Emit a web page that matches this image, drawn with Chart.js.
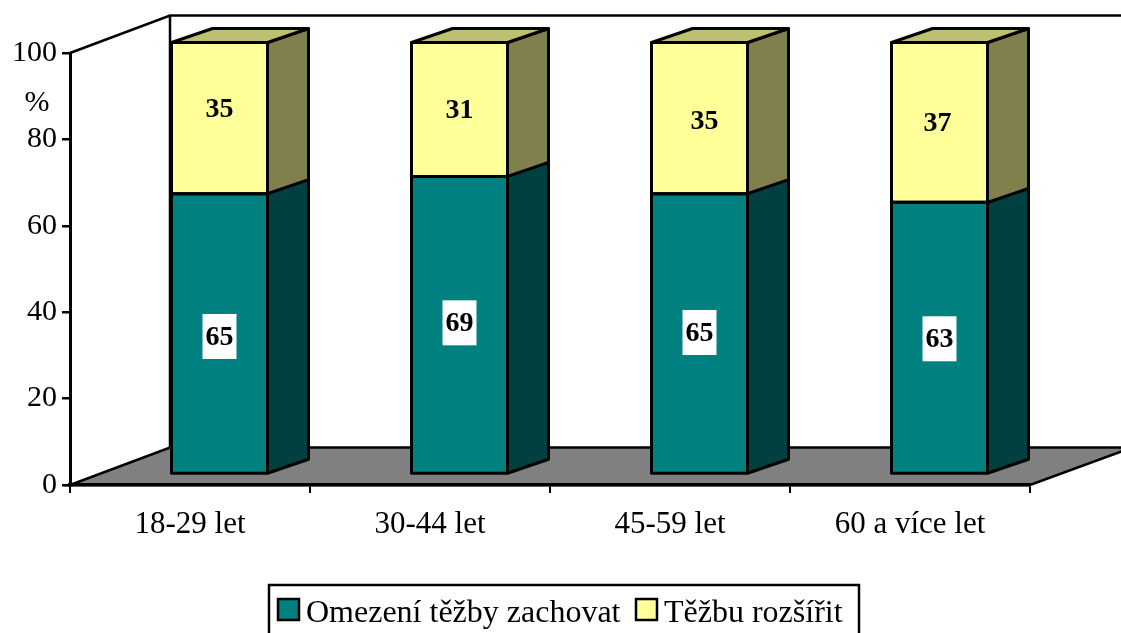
<!DOCTYPE html>
<html><head><meta charset="utf-8">
<style>html,body{margin:0;padding:0;background:#fff}canvas{display:block}</style>
<script src="https://cdn.jsdelivr.net/npm/chart.js@4"></script></head>
<body><canvas id="c" width="1121" height="633"></canvas>
<script>
const categories = ['18-29 let','30-44 let','45-59 let','60 a více let'];
const omezeni = [65,69,65,63];
const rozsirit = [35,31,35,37];
const seriesNames = ['Omezení těžby zachovat','Těžbu rozšířit'];
const yTicks = [0,20,40,60,80,100];
const FONT = '"Liberation Serif","Times New Roman",serif';
// styling / geometry constants
const barShift = {x:29.5,y:-10.5}, depth = {x:41,y:-14}, wall = {x:100,y:-37.5};
const labelNudge = [[[0,3],[0,-9]],[[0,-2],[0,0]],[[0,-1],[5,3]],[[0,1],[-2,0]]];
const shades = [{front:'#008080',side:'#004040'},{front:'#FFFF99',side:'#80804D',top:'#BFBF73'}];
const legendFrame = {l:269,t:585,r:859,b:640};
const legendItems = [{swatch:278,text:306},{swatch:636,text:664}];

const decor = {
  id:'decor',
  beforeDraw(ch){
    const {ctx,chartArea:a}=ch;
    const W=ch.width;
    ctx.save();
    ctx.lineJoin='miter';
    const bx=a.left+wall.x, by=a.bottom+wall.y, ty=a.top+wall.y;
    const k=(W-a.right)/wall.x;
    ctx.beginPath();ctx.moveTo(a.left,a.bottom);ctx.lineTo(bx,by);ctx.lineTo(W+2,by);
    ctx.lineTo(W+2,a.bottom+wall.y*k);ctx.lineTo(a.right,a.bottom);ctx.closePath();
    ctx.fillStyle='#808080';ctx.fill();
    ctx.strokeStyle='#000';ctx.lineWidth=2.5;ctx.stroke();
    ctx.beginPath();ctx.moveTo(a.left,a.top);ctx.lineTo(bx,ty);ctx.lineTo(W+2,ty);
    ctx.moveTo(bx,ty);ctx.lineTo(bx,by);ctx.stroke();
    // legend
    const f=legendFrame;
    ctx.strokeRect(f.l,f.t,f.r-f.l,f.b-f.t);
    ctx.font='32px '+FONT;ctx.textAlign='left';ctx.textBaseline='alphabetic';
    ch.data.datasets.forEach((d,i)=>{
      const it=legendItems[i];
      ctx.fillStyle=d.backgroundColor;ctx.fillRect(it.swatch,599,21,21);
      ctx.strokeStyle='#000';ctx.lineWidth=2.5;ctx.strokeRect(it.swatch,599,21,21);
      ctx.fillStyle='#000';ctx.fillText(d.label,it.text,622);
    });
    ctx.font='30px '+FONT;ctx.textAlign='center';ctx.textBaseline='middle';
    ctx.fillText('%',37,103);
    ctx.restore();
  },
  beforeDatasetsDraw(ch){ch.ctx.save();ch.ctx.translate(barShift.x,barShift.y);},
  afterDatasetsDraw(ch){
    const ctx=ch.ctx;ctx.restore();
    ctx.save();
    ctx.translate(barShift.x,barShift.y);
    ctx.strokeStyle='#000';ctx.lineWidth=3;ctx.lineJoin='round';
    const poly=(pts,fill)=>{ctx.beginPath();pts.forEach((p,i)=>i?ctx.lineTo(p[0],p[1]):ctx.moveTo(p[0],p[1]));ctx.closePath();ctx.fillStyle=fill;ctx.fill();ctx.stroke();};
    ch.data.datasets.forEach((d,di)=>{
      ch.getDatasetMeta(di).data.forEach((b,i)=>{
        const r=b.x+b.width/2,l=b.x-b.width/2,t=b.y,bt=b.base;
        poly([[r,t],[r+depth.x,t+depth.y],[r+depth.x,bt+depth.y],[r,bt]],shades[di].side);
        if(shades[di].top) poly([[l,t],[l+depth.x,t+depth.y],[r+depth.x,t+depth.y],[r,t]],shades[di].top);
        ctx.strokeRect(l,t,r-l,bt-t);
      });
    });
    ctx.font='bold 28px '+FONT;ctx.textAlign='center';ctx.textBaseline='middle';
    ch.data.datasets.forEach((d,di)=>{
      ch.getDatasetMeta(di).data.forEach((b,i)=>{
        const [nx,ny]=labelNudge[i][di];
        const x=b.x+nx,y=(b.y+b.base)/2+ny;
        if(di===0){ctx.fillStyle='#fff';ctx.fillRect(x-17,y-22.5,34,45);}
        ctx.fillStyle='#000';ctx.fillText(String(d.data[i]),x,y+1);
      });
    });
    ctx.restore();
  }
};

new Chart(document.getElementById('c'),{
  type:'bar',
  data:{labels:categories,datasets:[
    {label:seriesNames[0],data:omezeni,backgroundColor:shades[0].front,borderWidth:0},
    {label:seriesNames[1],data:rozsirit,backgroundColor:shades[1].front,borderWidth:0}
  ]},
  plugins:[decor],
  options:{
    responsive:false,animation:false,
    layout:{padding:{left:7,top:53,right:0,bottom:0}},
    datasets:{bar:{barPercentage:1,categoryPercentage:0.4}},
    plugins:{tooltip:{enabled:false},legend:{display:false}},
    scales:{
      x:{stacked:true,
        afterFit(s){s.height=148;},
        grid:{display:true,drawOnChartArea:false,drawTicks:true,tickLength:8,color:'#000',lineWidth:2},
        border:{display:true,color:'#000',width:3.5},
        ticks:{color:'#000',font:{family:FONT,size:31},padding:13,maxRotation:0}
      },
      y:{stacked:true,min:0,max:100,
        afterFit(s){s.width=63;},
        afterBuildTicks(s){s.ticks=yTicks.map(v=>({value:v}));},
        grid:{display:true,drawOnChartArea:false,drawTicks:true,tickLength:8,color:'#000',lineWidth:2.5},
        border:{display:true,color:'#000',width:3},
        ticks:{color:'#000',font:{family:FONT,size:30},padding:5}
      },
      yr:{position:'right',display:true,min:0,max:100,
        afterFit(s){s.width=91;},
        grid:{display:false},border:{display:false},ticks:{display:false}
      }
    }
  }
});
</script></body></html>
